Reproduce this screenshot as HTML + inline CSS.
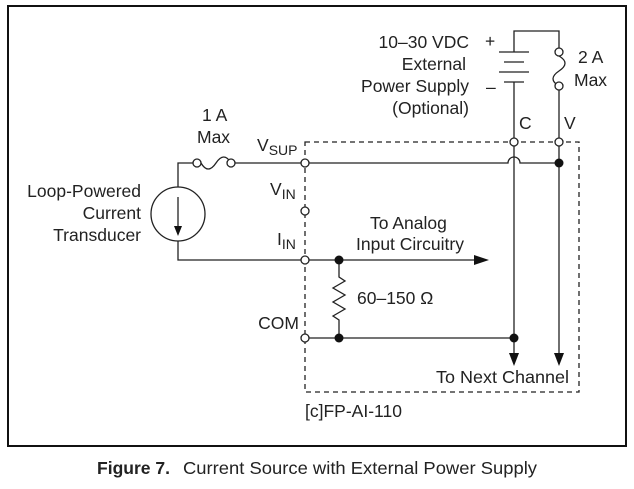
<!DOCTYPE html>
<html><head><meta charset="utf-8"><style>
html,body{margin:0;padding:0;background:#fff;}
svg{display:block;}
text{font-family:"Liberation Sans",Arial,sans-serif;fill:#222;font-size:17.5px;}
</style></head><body>
<svg width="634" height="489" viewBox="0 0 634 489" xmlns="http://www.w3.org/2000/svg">
<rect x="8" y="6" width="618" height="440" fill="none" stroke="#111" stroke-width="2"/>
<g stroke="#222" stroke-width="1.3" fill="none">
<path d="M305 142 H579 V392 H305 Z" stroke-dasharray="5,4"/>
<circle cx="178" cy="214" r="27"/>
<path d="M178 187 V163 H193 M235 163 H301 M178 241 V260 H301"/>
<path d="M178 197 V228"/>
<path d="M201 163 q7 12 15 0 t15 0" />
<path d="M309 163 H508 a6 6 0 0 1 12 0 H559"/>
<path d="M514 146 V82 M514 52 V31 H559 V48"/>
<path d="M499 52 H529 M504 62 H524 M499 72 H529 M504 82 H524"/>
<path d="M559 56 q12 7 0 15 t0 15"/>
<path d="M559 90 V138 M559 146 V358"/>
<path d="M514 146 V358"/>
<path d="M309 260 H478"/>
<path d="M339 260 V277 l6 4 l-12 7 l12 7 l-12 7 l12 7 l-12 7 l6 4 V338"/>
<path d="M309 338 H514"/>
</g>
<g fill="#fff" stroke="#222" stroke-width="1.3">
<circle cx="197" cy="163" r="4"/><circle cx="231" cy="163" r="4"/>
<circle cx="305" cy="163" r="4"/><circle cx="305" cy="211" r="4"/>
<circle cx="305" cy="260" r="4"/><circle cx="305" cy="338" r="4"/>
<circle cx="514" cy="142" r="4"/><circle cx="559" cy="142" r="4"/>
<circle cx="559" cy="52" r="4"/><circle cx="559" cy="86" r="4"/>
</g>
<g fill="#111">
<circle cx="559" cy="163" r="4.5"/><circle cx="339" cy="260" r="4.5"/>
<circle cx="339" cy="338" r="4.5"/><circle cx="514" cy="338" r="4.5"/>
<path d="M474 255 L489 260 L474 265 Z"/>
<path d="M509 353 L514 366 L519 353 Z"/>
<path d="M554 353 L559 366 L564 353 Z"/>
<path d="M174 226 L178 236 L182 226 Z"/>
</g>
<g text-anchor="end">
<text x="141" y="197">Loop-Powered</text>
<text x="141" y="219">Current</text>
<text x="141" y="241">Transducer</text>
<text x="469" y="48">10–30 VDC</text>
<text x="466" y="70">External</text>
<text x="469" y="92">Power Supply</text>
<text x="469" y="114">(Optional)</text>
<text x="299" y="329">COM</text>
</g>
<text x="485" y="47" font-size="15">+</text>
<text x="486" y="93">–</text>
<text x="578" y="63">2 A</text>
<text x="574" y="86">Max</text>
<text x="519" y="129" font-size="19">C</text>
<text x="564" y="129" font-size="19">V</text>
<text x="202" y="121">1 A</text>
<text x="197" y="143">Max</text>
<text x="257" y="151">V<tspan font-size="14" dy="4">SUP</tspan></text>
<text x="270" y="195">V<tspan font-size="14" dy="4">IN</tspan></text>
<text x="277" y="245">I<tspan font-size="14" dy="4">IN</tspan></text>
<text x="370" y="229">To Analog</text>
<text x="356" y="250">Input Circuitry</text>
<text x="357" y="304">60–150 Ω</text>
<text x="436" y="383" textLength="133" lengthAdjust="spacingAndGlyphs">To Next Channel</text>
<text x="305" y="417">[c]FP-AI-110</text>
<text x="97" y="474" font-size="20" font-weight="bold" textLength="73" lengthAdjust="spacingAndGlyphs">Figure 7.</text>
<text x="183" y="474" font-size="20" textLength="354" lengthAdjust="spacingAndGlyphs">Current Source with External Power Supply</text>
</svg>
</body></html>
